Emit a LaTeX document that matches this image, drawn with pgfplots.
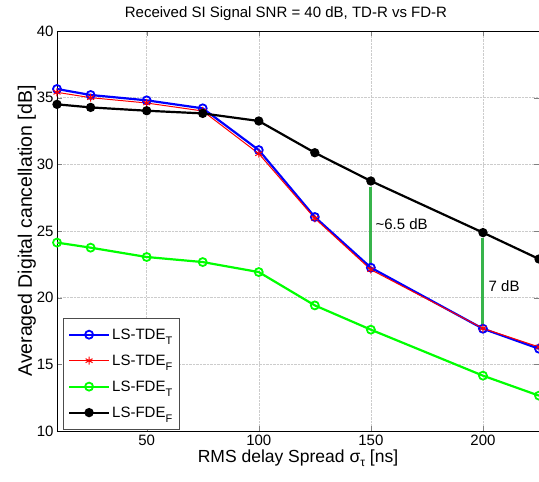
\documentclass[border=0pt]{standalone}
\usepackage{pgfplots}
\pgfplotsset{compat=1.18}
\usepackage{fontspec}
\setmainfont{Liberation Sans}
\definecolor{annot}{RGB}{55,180,75}
\newcommand{\sub}[1]{\raisebox{-5pt}{\fontsize{11}{11}\selectfont #1}}
\begin{document}
\begin{tikzpicture}
\path[use as bounding box] (-57pt,-51pt) rectangle (482pt,431pt);
\begin{axis}[
  scale only axis, width=482pt, height=400pt,
  xmin=10, xmax=225, ymin=10, ymax=40,
  xtick={50,100,150,200}, ytick={10,15,...,40},
  grid=major, major grid style={densely dotted, gray!40},
  tick align=inside, major tick length=5pt,
  /pgf/number format/assume math mode=true,
  tick label style={font=\fontsize{15}{17}\selectfont},
  title={Received SI Signal SNR = 40 dB, TD-R vs FD-R},
  title style={font=\fontsize{15}{17}\selectfont, at={(0.475,1)}, yshift=1pt},
  xlabel={RMS delay Spread σ\raisebox{-4pt}{\fontsize{12}{12}\selectfont τ} [ns]},
  ylabel={Averaged Digital cancellation [dB]},
  xlabel style={font=\fontsize{17.5}{19}\selectfont, yshift=2pt},
  ylabel style={font=\fontsize{19.5}{21}\selectfont, yshift=-6pt},
  legend style={at={(0.012,0.003)}, anchor=south west, font=\fontsize{15}{17}\selectfont,
    draw=black!70, row sep=10pt, inner xsep=5pt, inner ysep=9pt},
  legend cell align=left,
  legend image code/.code={\draw[#1] (0pt,0pt) -- (40pt,0pt); \draw[#1, only marks] plot coordinates {(20pt,0pt)};},
]
\addplot[blue, line width=2.2pt, mark=o, mark size=4pt, mark options={line width=1.8pt}] coordinates {
(10,35.65) (25,35.2) (50,34.8) (75,34.2) (100,31.07) (125,26.05) (150,22.25) (200,17.67) (225,16.17)};
\addlegendentry{LS-TDE\sub{T}}
\addplot[red, line width=1pt, mark=asterisk, mark size=4pt, mark options={line width=1pt}] coordinates {
(10,35.4) (25,35.0) (50,34.6) (75,34.0) (100,30.8) (125,25.95) (150,22.1) (200,17.7) (225,16.3)};
\addlegendentry{LS-TDE\sub{F}}
\addplot[green, line width=2.2pt, mark=o, mark size=4pt, mark options={line width=1.8pt}] coordinates {
(10,24.13) (25,23.75) (50,23.05) (75,22.67) (100,21.92) (125,19.42) (150,17.6) (200,14.15) (225,12.65)};
\addlegendentry{LS-FDE\sub{T}}
\addplot[black, line width=2.2pt, mark=*, mark size=3.5pt] coordinates {
(10,34.5) (25,34.27) (50,34.02) (75,33.82) (100,33.25) (125,30.87) (150,28.75) (200,24.88) (225,22.9)};
\addlegendentry{LS-FDE\sub{F}}
\addplot[annot, line width=3pt, forget plot] coordinates {(150,28.3) (150,22.5)};
\addplot[annot, line width=3pt, forget plot] coordinates {(200,24.45) (200,17.95)};
\node[anchor=west, font=\fontsize{15}{17}\selectfont] at (axis cs:150.5,25.5) {\textasciitilde 6.5 dB};
\node[anchor=west, font=\fontsize{15}{17}\selectfont] at (axis cs:201,20.9) {7 dB};
\end{axis}
\end{tikzpicture}
\end{document}
